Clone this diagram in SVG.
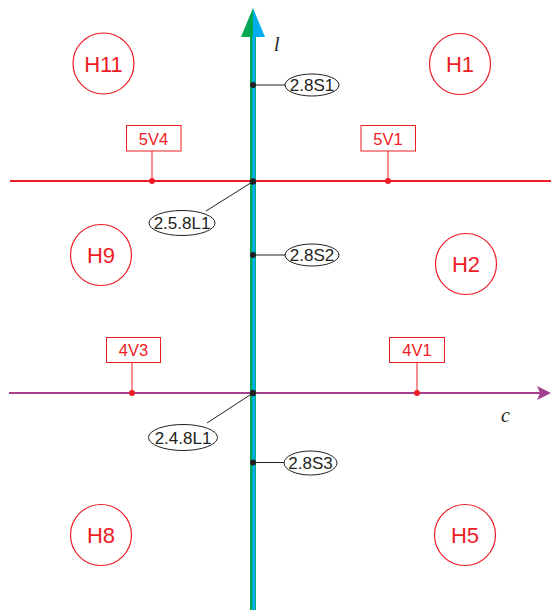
<svg xmlns="http://www.w3.org/2000/svg" width="551" height="610" viewBox="0 0 551 610">
<style>
.h circle{fill:none;stroke:#ee1c25;stroke-width:1.2}
.h text{font-family:"Liberation Sans",Arial,sans-serif;font-size:22px;fill:#ee1c25;text-anchor:middle}
.v rect{fill:#fff;stroke:#ee1c25;stroke-width:1}
.v text{font-family:"Liberation Sans",Arial,sans-serif;font-size:16.5px;fill:#ee1c25;text-anchor:middle}
.v line{stroke:#ee1c25;stroke-width:1}
.v circle{fill:#ee1c25}
.e ellipse{fill:#fff;stroke:#231f20;stroke-width:1}
.e text{font-family:"Liberation Sans",Arial,sans-serif;font-size:17px;fill:#231f20;text-anchor:middle}
.e line{stroke:#231f20;stroke-width:1}
.e circle{fill:#231f20}
.ax{font-family:"Liberation Serif","Times New Roman",serif;font-style:italic;font-size:20px;fill:#231f20}
</style>
<g id="connectors">
  <line x1="10" y1="181" x2="551" y2="181" stroke="#ee1c25" stroke-width="2"/>
  <line x1="9" y1="393" x2="541" y2="393" stroke="#a3418f" stroke-width="2.2"/>
  <polygon points="551,393 537,386 540,393 537,400" fill="#a3418f"/>
  <rect x="250" y="30" width="6" height="580" fill="#00a651"/>
  <rect x="252.3" y="30" width="3" height="580" fill="#00aeef"/>
  <polygon points="253,8 241,37 253,37" fill="#00a651"/>
  <polygon points="253,8 265,37 253,37" fill="#00aeef"/>
</g>
<text class="ax" x="274" y="51">l</text>
<text class="ax" x="501" y="422">c</text>
<g id="H11" class="h"><circle cx="103.5" cy="63.5" r="30.5"/><text x="103.5" y="71.5">H11</text></g>
<g id="H1" class="h"><circle cx="460" cy="64" r="30.5"/><text x="460" y="72">H1</text></g>
<g id="H9" class="h"><circle cx="101" cy="255" r="30.5"/><text x="101" y="263">H9</text></g>
<g id="H2" class="h"><circle cx="466" cy="264" r="30.5"/><text x="466" y="272">H2</text></g>
<g id="H8" class="h"><circle cx="101" cy="535" r="30.5"/><text x="101" y="543">H8</text></g>
<g id="H5" class="h"><circle cx="465" cy="535" r="30.5"/><text x="465" y="543">H5</text></g>
<g id="V5V4" class="v"><line x1="152" y1="151" x2="152" y2="181"/><rect x="126.5" y="125.5" width="54.5" height="25.5"/><text x="153.5" y="144.5">5V4</text><circle cx="152" cy="181" r="3"/></g>
<g id="V5V1" class="v"><line x1="388" y1="151" x2="388" y2="181"/><rect x="361" y="125.5" width="54.5" height="25.5"/><text x="388" y="144.5">5V1</text><circle cx="388" cy="181" r="3"/></g>
<g id="V4V3" class="v"><line x1="132" y1="362.5" x2="132" y2="393"/><rect x="106.5" y="337.5" width="54" height="25"/><text x="133.5" y="356">4V3</text><circle cx="132" cy="393" r="3"/></g>
<g id="V4V1" class="v"><line x1="417" y1="362.5" x2="417" y2="393"/><rect x="389.5" y="337.5" width="55" height="25"/><text x="417" y="356">4V1</text><circle cx="417" cy="393" r="3"/></g>
<g id="S1" class="e"><line x1="253" y1="85" x2="285" y2="85"/><circle cx="253" cy="85" r="3"/><ellipse cx="312" cy="85" rx="27" ry="11"/><text x="312" y="91">2.8S1</text></g>
<g id="S2" class="e"><line x1="253" y1="255" x2="285" y2="255"/><circle cx="253" cy="255" r="3"/><ellipse cx="312" cy="255" rx="27" ry="11"/><text x="312" y="261">2.8S2</text></g>
<g id="S3" class="e"><line x1="253" y1="462.5" x2="285" y2="462.5"/><circle cx="253" cy="462.5" r="3"/><ellipse cx="310.5" cy="463" rx="26.5" ry="12"/><text x="310.5" y="469">2.8S3</text></g>
<g id="L258" class="e"><line x1="253" y1="181.5" x2="206" y2="211"/><circle cx="253" cy="181.5" r="3.2"/><ellipse cx="182" cy="223" rx="33" ry="12.5"/><text x="182" y="229">2.5.8L1</text></g>
<g id="L248" class="e"><line x1="253" y1="393" x2="207" y2="423"/><circle cx="253" cy="393" r="3.2"/><ellipse cx="183" cy="437.5" rx="34.5" ry="13"/><text x="183" y="443.5">2.4.8L1</text></g>
</svg>
